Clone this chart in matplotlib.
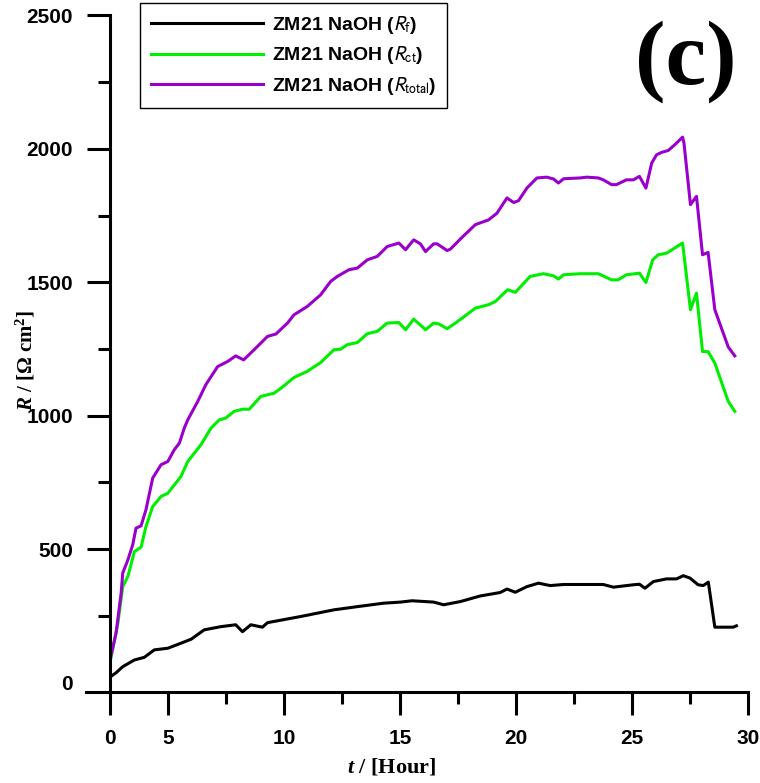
import numpy as np
import matplotlib
matplotlib.use("Agg")
import matplotlib.pyplot as plt
from matplotlib.font_manager import FontProperties

plt.rcParams['mathtext.fontset'] = 'custom'
plt.rcParams['mathtext.rm'] = 'Liberation Serif:bold'
plt.rcParams['mathtext.it'] = 'Liberation Serif:italic:bold'
plt.rcParams['mathtext.bf'] = 'Liberation Serif:bold'

# data (time axis as drawn: left spine sits at 2.5)
t_f = [2.5, 2.76, 3.05, 3.55, 3.98, 4.41, 4.99, 5.56, 6.0, 6.56, 7.28, 7.92, 8.21, 8.57,
       9.07, 9.29, 10.72, 12.15, 13.16, 14.3, 15.02, 15.52, 16.45, 16.88, 17.6, 18.46,
       19.32, 19.61, 19.97, 20.47, 20.97, 21.47, 22.05, 23.76, 24.2, 25.06, 25.32, 25.56,
       25.92, 26.49, 26.92, 27.21, 27.5, 27.85, 28.07, 28.29, 28.57, 29.36, 29.5]
r_f = [20, 36, 59, 84, 94, 122, 128, 147, 162, 197, 209, 216, 190, 216,
       207, 224, 247, 272, 284, 297, 301, 306, 301, 291, 303, 324,
       337, 350, 338, 359, 372, 363, 367, 367, 357, 366, 368, 353,
       378, 388, 388, 400, 391, 366, 363, 376, 207, 207, 212]

t_ct = [2.5, 2.84, 3.05, 3.27, 3.55, 3.84, 4.05, 4.34, 4.7, 4.99, 5.56, 5.85, 6.42, 6.85,
        7.21, 7.49, 7.85, 8.21, 8.5, 9.0, 9.57, 9.93, 10.43, 11.0, 11.58, 12.15, 12.44,
        12.73, 13.16, 13.59, 14.02, 14.45, 14.95, 15.24, 15.59, 16.1, 16.45, 16.67, 17.03,
        17.39, 18.25, 18.82, 19.11, 19.64, 19.97, 20.61, 21.18, 21.62, 21.83, 22.05, 22.76,
        23.55, 24.12, 24.4, 24.76, 25.32, 25.6, 25.89, 26.13, 26.49, 27.18, 27.52, 27.78,
        28.04, 28.28, 28.57, 29.15, 29.43]
r_ct = [74, 222, 359, 397, 490, 507, 584, 659, 697, 709, 772, 828, 891, 953,
        984, 991, 1016, 1024, 1024, 1072, 1084, 1107, 1143, 1166, 1199, 1247, 1249,
        1266, 1274, 1307, 1316, 1347, 1349, 1322, 1362, 1322, 1347, 1344, 1326,
        1347, 1403, 1416, 1428, 1472, 1462, 1522, 1532, 1524, 1512, 1528, 1532,
        1532, 1509, 1509, 1528, 1534, 1499, 1584, 1603, 1609, 1647, 1397, 1459,
        1240, 1240, 1197, 1053, 1016]

t_tot = [2.5, 2.76, 2.98, 3.05, 3.27, 3.48, 3.62, 3.84, 4.05, 4.34, 4.7, 4.99, 5.27, 5.49,
         5.7, 5.85, 6.28, 6.63, 7.14, 7.57, 7.92, 8.26, 8.71, 9.29, 9.65, 10.15, 10.43,
         11.0, 11.58, 12.01, 12.3, 12.8, 13.16, 13.59, 14.02, 14.45, 14.95, 15.24, 15.59,
         15.88, 16.1, 16.45, 16.6, 17.03, 17.17, 17.67, 18.25, 18.82, 19.18, 19.61, 19.9,
         20.11, 20.47, 20.9, 21.33, 21.62, 21.83, 22.05, 22.76, 23.05, 23.55, 23.76, 24.12,
         24.33, 24.76, 25.06, 25.32, 25.6, 25.85, 26.06, 26.28, 26.56, 26.85, 27.18, 27.24,
         27.52, 27.78, 28.04, 28.28, 28.57, 29.15, 29.43]
r_tot = [84, 184, 335, 410, 459, 516, 578, 587, 647, 766, 816, 828, 872, 897,
         953, 984, 1053, 1116, 1184, 1203, 1224, 1209, 1247, 1297, 1306, 1347, 1378,
         1409, 1453, 1503, 1522, 1547, 1553, 1584, 1597, 1634, 1647, 1622, 1659,
         1644, 1615, 1644, 1644, 1619, 1624, 1668, 1716, 1734, 1759, 1816, 1799,
         1806, 1853, 1891, 1894, 1887, 1872, 1888, 1891, 1894, 1891, 1884, 1866,
         1866, 1884, 1884, 1897, 1853, 1947, 1978, 1987, 1994, 2016, 2044, 2022,
         1791, 1822, 1603, 1612, 1397, 1257, 1224]

x_ticks = [2.5, 5, 10, 15, 20, 25, 30]
x_labels = ['0', '5', '10', '15', '20', '25', '30']
y_ticks = [0, 500, 1000, 1500, 2000, 2500]

fig = plt.figure(figsize=(7.6, 7.83), dpi=100)
ax = fig.add_axes([110/760, 1-692/783, 638/760, 676.5/783])

ax.plot(t_f, r_f, color='black', lw=2.2, label=r'ZM21 NaOH ($R_{\mathrm{f}}$)')
ax.plot(t_ct, r_ct, color='#00ee00', lw=2.2, label=r'ZM21 NaOH ($R_{\mathrm{ct}}$)')
ax.plot(t_tot, r_tot, color='#9900cc', lw=2.2, label=r'ZM21 NaOH ($R_{\mathrm{total}}$)')

ax.set_xlim(2.5, 30)
ax.set_ylim(-36, 2500)
ax.spines['top'].set_visible(False)
ax.spines['right'].set_visible(False)
for s in ['left', 'bottom']:
    ax.spines[s].set_linewidth(2.2)
ax.spines['bottom'].set_bounds(2.5 - 24/23.25, 30)

ax.set_xticks(x_ticks)
ax.set_xticklabels(x_labels)
ax.set_xticks([7.5, 12.5, 17.5, 22.5, 27.5], minor=True)
ax.set_yticks(y_ticks)
ax.set_yticks([250, 750, 1250, 1750, 2250], minor=True)
ax.yaxis.get_major_ticks()[0].tick1line.set_visible(False)

ax.tick_params(which='major', direction='out', length=16.5, width=2.2)
ax.tick_params(which='minor', direction='out', length=8.5, width=2.2)
ax.tick_params(axis='x', which='major', pad=10)
ax.tick_params(axis='y', which='major', pad=10)
for lab in ax.get_xticklabels() + ax.get_yticklabels():
    lab.set_fontfamily('Liberation Sans')
    lab.set_fontweight('bold')
    lab.set_fontsize(15)

ax.set_xlabel(r'$t$ / [Hour]', fontfamily='Liberation Serif', fontweight='bold', fontsize=16)
ax.xaxis.set_label_coords(0.442, -0.095)
ax.set_ylabel(r'$R$ / [Ω cm$^2$]', fontfamily='Liberation Serif', fontweight='bold', fontsize=15)
ax.yaxis.set_label_coords(-0.114, 0.49)

leg_font = FontProperties(family='Liberation Sans', weight='bold', size=14, math_fontfamily='stixsans')
leg = ax.legend(loc='upper left', bbox_to_anchor=(140/760, 1-3/783), bbox_transform=fig.transFigure,
                borderaxespad=0, prop=leg_font, handlelength=5.8, handletextpad=0.45,
                borderpad=0.55, labelspacing=0.45, fancybox=False, framealpha=1)
leg.get_frame().set_edgecolor('black')
leg.get_frame().set_linewidth(1.0)

fig.text(686/760, 1-62/783, '(c)', ha='center', va='center', fontsize=66,
         fontfamily='Liberation Serif', fontweight='bold')

fig.savefig('out.png', dpi=100)
